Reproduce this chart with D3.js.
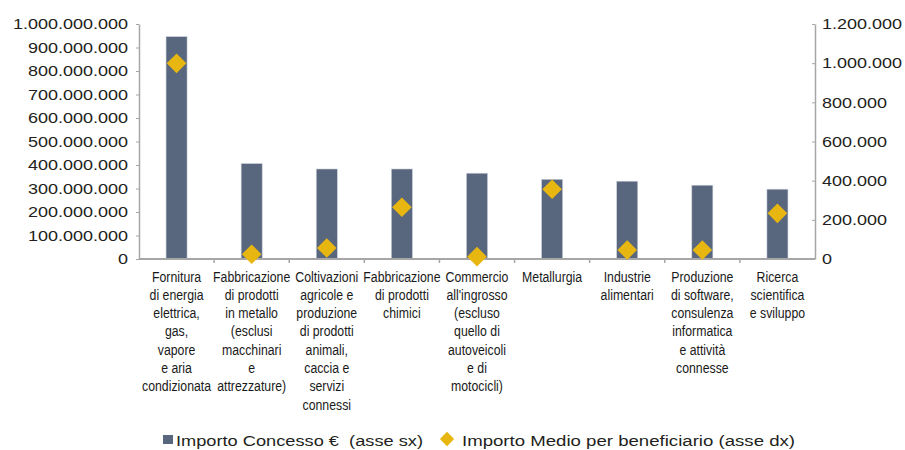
<!DOCTYPE html>
<html lang="it">
<head>
  <meta charset="UTF-8">
  <title>Importo concesso per settore</title>
  <script src="https://d3js.org/d3.v7.min.js"></script>
  <style>
    body { margin: 0; padding: 0; background: #fff; }
    svg { display: block; font-family: 'Liberation Sans', Arial, sans-serif; }
    .axis path, .axis line { stroke: #a6a6a6; }
    .axis text { fill: #231f20; font-size: 15px; }
  </style>
</head>
<body>
  <svg id="chart" width="905" height="450"></svg>
  <script>
    // Dati
    const categorie = [
      ["Fornitura", "di energia", "elettrica,", "gas,", "vapore", "e aria", "condizionata"],
      ["Fabbricazione", "di prodotti", "in metallo", "(esclusi", "macchinari", "e", "attrezzature)"],
      ["Coltivazioni", "agricole e", "produzione", "di prodotti", "animali,", "caccia e", "servizi", "connessi"],
      ["Fabbricazione", "di prodotti", "chimici"],
      ["Commercio", "all'ingrosso", "(escluso", "quello di", "autoveicoli", "e di", "motocicli)"],
      ["Metallurgia"],
      ["Industrie", "alimentari"],
      ["Produzione", "di software,", "consulenza", "informatica", "e attività", "connesse"],
      ["Ricerca", "scientifica", "e sviluppo"]
    ];
    const importoConcesso = [946000000, 406000000, 383000000, 383000000, 365000000, 339000000, 331000000, 314000000, 297000000];
    const importoMedio = [999000, 24000, 56000, 264000, 12000, 356000, 46000, 46000, 233000];
    const tickSx = [0, 100000000, 200000000, 300000000, 400000000, 500000000, 600000000, 700000000, 800000000, 900000000, 1000000000];
    const tickDx = [0, 200000, 400000, 600000, 800000, 1000000, 1200000];
    const legenda = ["Importo Concesso €  (asse sx)", "Importo Medio per beneficiario (asse dx)"];

    const coloreBarre = '#58677e', coloreRombi = '#e8b610';
    const mLeft = 139, mRight = 815, mTop = 24, mBottom = 259;

    const it = d3.formatLocale({ decimal: ',', thousands: '.', grouping: [3], currency: ['', '€'] });
    const fmt = it.format(',d');

    const svg = d3.select('#chart');
    const ids = d3.range(categorie.length);

    const xBand = d3.scaleBand().domain(ids).range([mLeft, mRight]);
    const xBar = d3.scaleBand().domain(ids).range([mLeft, mRight]).paddingInner(0.72).paddingOuter(0.36);
    const ySx = d3.scaleLinear().domain([0, 1000000000]).range([mBottom, mTop]);
    const yDx = d3.scaleLinear().domain([0, 1200000]).range([mBottom, mTop]);

    // Barre
    svg.append('g').selectAll('rect')
      .data(importoConcesso)
      .join('rect')
      .attr('x', (d, i) => xBar(i))
      .attr('y', d => ySx(d))
      .attr('width', xBar.bandwidth())
      .attr('height', d => ySx(0) - ySx(d))
      .attr('fill', coloreBarre)
      .attr('stroke', '#c9ced6')
      .attr('stroke-width', 0.6);

    // Asse sinistro
    const axSx = svg.append('g').attr('class', 'axis')
      .attr('transform', `translate(${mLeft},0)`)
      .call(d3.axisLeft(ySx).tickValues(tickSx).tickFormat(fmt).tickSize(3).tickSizeOuter(0));
    axSx.select('.domain').attr('stroke-width', 1.5);
    axSx.selectAll('text').attr('x', 0).attr('transform', 'translate(-11,0) scale(1.2,1)');

    // Asse destro
    const axDx = svg.append('g').attr('class', 'axis')
      .attr('transform', `translate(${mRight},0)`)
      .call(d3.axisRight(yDx).tickValues(tickDx).tickFormat(fmt).tickSize(3).tickSizeOuter(0));
    axDx.select('.domain').attr('stroke-width', 1.5);
    axDx.selectAll('line').attr('x2', -3);
    axDx.selectAll('text').attr('x', 0).attr('transform', 'translate(7,0) scale(1.2,1)');

    // Asse categorie
    const axX = svg.append('g').attr('class', 'axis')
      .attr('transform', `translate(0,${mBottom})`);
    axX.append('line')
      .attr('x1', mLeft).attr('x2', mRight)
      .attr('stroke-width', 2);
    axX.selectAll('line.tick')
      .data(ids.slice(1))
      .join('line')
      .attr('class', 'tick')
      .attr('x1', i => xBand(i)).attr('x2', i => xBand(i))
      .attr('y1', 0).attr('y2', 4)
      .attr('stroke-width', 1.5);

    const lab = svg.append('g').selectAll('g')
      .data(categorie)
      .join('g')
      .attr('transform', (d, i) => `translate(${xBand(i) + xBand.bandwidth() / 2},281.5) scale(0.82,1)`);
    lab.selectAll('text')
      .data(d => d)
      .join('text')
      .attr('y', (d, j) => j * 18.3)
      .attr('text-anchor', 'middle')
      .attr('font-size', 15)
      .attr('fill', '#1a1a1a')
      .text(d => d);

    // Rombi
    const rombo = d3.symbol().type(d3.symbolDiamond2).size(245);
    svg.append('g').selectAll('path')
      .data(importoMedio)
      .join('path')
      .attr('d', rombo)
      .attr('transform', (d, i) => `translate(${xBand(i) + xBand.bandwidth() / 2},${yDx(d)})`)
      .attr('fill', coloreRombi);

    // Legenda
    const leg = svg.append('g').attr('font-size', 15.5).attr('fill', '#231f20');
    leg.append('rect').attr('x', 163).attr('y', 435).attr('width', 10).attr('height', 9).attr('fill', coloreBarre);
    leg.append('text').attr('x', 176).attr('y', 445.5)
      .attr('textLength', 247).attr('lengthAdjust', 'spacingAndGlyphs')
      .style('white-space', 'pre')
      .text(legenda[0]);
    leg.append('path').attr('d', d3.symbol().type(d3.symbolDiamond2).size(130))
      .attr('transform', 'translate(447,439)').attr('fill', coloreRombi);
    leg.append('text').attr('x', 462).attr('y', 445.5)
      .attr('textLength', 333).attr('lengthAdjust', 'spacingAndGlyphs')
      .text(legenda[1]);
  </script>
</body>
</html>
